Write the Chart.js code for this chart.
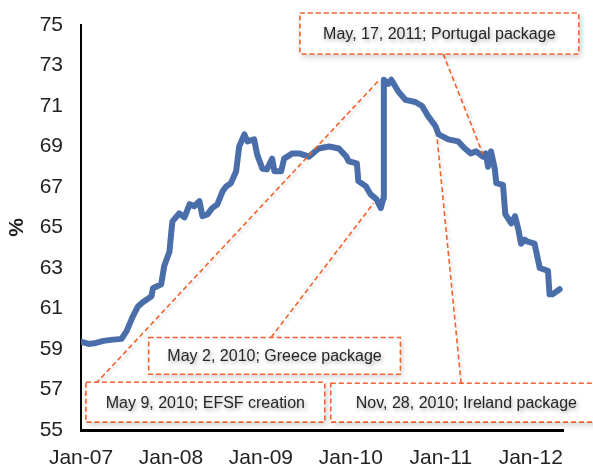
<!DOCTYPE html>
<html>
<head>
<meta charset="utf-8">
<script src="https://cdn.jsdelivr.net/npm/chart.js@4/dist/chart.umd.min.js"></script>
<style>
html,body{margin:0;padding:0;background:#fff;}
#wrap{width:593px;height:470px;position:relative;}
</style>
</head>
<body>
<div id="wrap"><canvas id="c" width="593" height="470"></canvas></div>
<script>
// months since Jan-2007
const months = [0.1,1.0,2.0,3.0,4.0,5.4,6.1,6.9,7.6,8.2,9.4,9.6,10.7,11.1,11.8,12.05,12.2,13.1,13.8,14.5,15.1,15.8,16.2,16.9,17.5,18.2,18.9,19.4,20.0,20.7,21.1,21.8,22.2,23.1,23.5,24.2,24.8,25.5,25.8,26.7,27.1,28.2,29.1,30.4,31.7,33.1,34.4,35.4,35.7,36.8,37.0,38.0,38.6,39.4,40.0,40.35,40.4,41.0,41.4,42.35,43.3,44.6,45.5,46.3,47.3,47.7,49.0,50.3,51.2,52.0,52.7,53.6,54.0,54.3,54.7,55.2,55.4,56.3,56.6,57.4,57.9,58.3,58.7,59.2,59.6,60.5,61.2,62.3,62.5,62.9,63.85];
const values = [59.35,59.25,59.3,59.4,59.45,59.5,59.9,60.6,61.1,61.3,61.6,62.0,62.2,63.1,63.8,64.8,65.3,65.7,65.5,66.15,66.05,66.3,65.56,65.66,65.96,66.15,66.8,67.04,67.19,67.78,69.0,69.6,69.25,69.35,68.6,67.9,67.87,68.4,67.78,67.78,68.4,68.66,68.66,68.5,68.9,69.0,68.9,68.5,68.27,68.17,67.29,67.04,66.65,66.4,65.96,66.45,72.3,72.1,72.3,71.7,71.3,71.2,71.0,70.5,70.0,69.6,69.35,69.25,68.9,68.66,68.76,68.5,68.66,68.0,68.76,67.9,67.19,67.1,65.66,65.2,65.56,64.98,64.2,64.4,64.3,64.2,63.0,62.86,61.7,61.7,61.95];
const tickMonths = [0,12,24,36,48,60];
const tickLabels = ['Jan-07','Jan-08','Jan-09','Jan-10','Jan-11','Jan-12'];
const noteTexts = ['May, 17, 2011; Portugal package','May 2, 2010; Greece package','May 9, 2010; EFSF creation','Nov, 28, 2010; Ireland package'];

const FONT = '"Liberation Sans", Arial, sans-serif';
const ORANGE = '#F0622C';

// annotation geometry in data units (x: months, y: %)
const notes = [
  {text: noteTexts[0], box:[29.2,66.4,75.59,73.57], line:[[48.32,73.57],[53.63,68.61]]},
  {text: noteTexts[1], box:[9.03,42.61,59.57,57.75], line:[[25.35,59.57],[39.03,66.2]]},
  {text: noteTexts[2], box:[0.66,32.52,57.36,55.39], line:[[0.53,56.72],[39.82,72.3]]},
  {text: noteTexts[3], box:[33.32,69.5,57.31,55.39], line:[[50.71,57.31],[47.52,69.35]]}
];

const notePlugin = {
  id:'notes',
  afterDraw(chart){
    const ctx = chart.ctx, xs = chart.scales.x, ys = chart.scales.y;
    ctx.save();
    ctx.strokeStyle = ORANGE;
    ctx.lineWidth = 1.6;
    ctx.setLineDash([5,3]);
    ctx.shadowColor = 'rgba(0,0,0,0.15)';
    ctx.shadowBlur = 3; ctx.shadowOffsetX = 2; ctx.shadowOffsetY = 2;
    notes.forEach(n=>{
      ctx.beginPath();
      ctx.moveTo(xs.getPixelForValue(n.line[0][0]), ys.getPixelForValue(n.line[0][1]));
      ctx.lineTo(xs.getPixelForValue(n.line[1][0]), ys.getPixelForValue(n.line[1][1]));
      ctx.stroke();
    });
    ctx.shadowColor = 'transparent';
    notes.forEach(n=>{
      const x1 = xs.getPixelForValue(n.box[0]), x2 = xs.getPixelForValue(n.box[1]);
      const y1 = ys.getPixelForValue(n.box[2]), y2 = ys.getPixelForValue(n.box[3]);
      ctx.save();
      ctx.setLineDash([]);
      ctx.shadowColor = 'rgba(0,0,0,0.18)';
      ctx.shadowBlur = 6; ctx.shadowOffsetX = 2; ctx.shadowOffsetY = 3;
      ctx.fillStyle = '#fff';
      ctx.fillRect(x1,y1,x2-x1,y2-y1);
      ctx.restore();
      ctx.strokeStyle = ORANGE;
      ctx.setLineDash([5,3]);
      ctx.strokeRect(x1,y1,x2-x1,y2-y1);
      ctx.save();
      ctx.setLineDash([]);
      ctx.font = '16px ' + FONT;
      ctx.fillStyle = '#262626';
      ctx.textAlign = 'center';
      ctx.textBaseline = 'middle';
      ctx.shadowColor = 'rgba(0,0,0,0.35)';
      ctx.shadowBlur = 4; ctx.shadowOffsetX = 1.5; ctx.shadowOffsetY = 2;
      ctx.fillText(n.text, (x1+x2)/2, (y1+y2)/2 + 1);
      ctx.restore();
    });
    ctx.restore();
  }
};

new Chart(document.getElementById('c'), {
  type:'line',
  data:{datasets:[{
    data: months.map((m,i)=>({x:m, y:values[i]})),
    borderColor:'#4A6EAA', borderWidth:6, pointRadius:0, tension:0,
    borderJoinStyle:'round', borderCapStyle:'round', fill:false
  }]},
  options:{
    responsive:false, animation:false,
    layout:{padding:{top:25,right:30,left:0,bottom:0}},
    plugins:{legend:{display:false}, tooltip:{enabled:false}},
    scales:{
      x:{
        type:'linear', min:0, max:64.3,
        afterBuildTicks(s){ s.ticks = tickMonths.map(v=>({value:v})); },
        afterFit(s){ s.height = 40; s.paddingLeft = 0; s.paddingRight = 0; },
        grid:{display:false, drawTicks:false},
        border:{display:true, color:'#000', width:3},
        ticks:{padding:16, color:'#222', font:{family:FONT, size:21}, maxRotation:0, autoSkip:false,
          callback:(v)=> tickLabels[tickMonths.indexOf(v)] }
      },
      y:{
        min:55, max:75,
        afterFit(s){ s.width = 81; s.paddingTop = 0; s.paddingBottom = 0; },
        grid:{display:false, drawTicks:false},
        border:{display:true, color:'#000', width:2},
        ticks:{stepSize:2, padding:18, color:'#222', font:{family:FONT, size:21}},
        title:{display:true, text:'%', color:'#222', font:{family:FONT, size:21, weight:'bold'}, padding:{top:5,bottom:0}}
      }
    }
  },
  plugins:[notePlugin]
});
</script>
</body>
</html>
